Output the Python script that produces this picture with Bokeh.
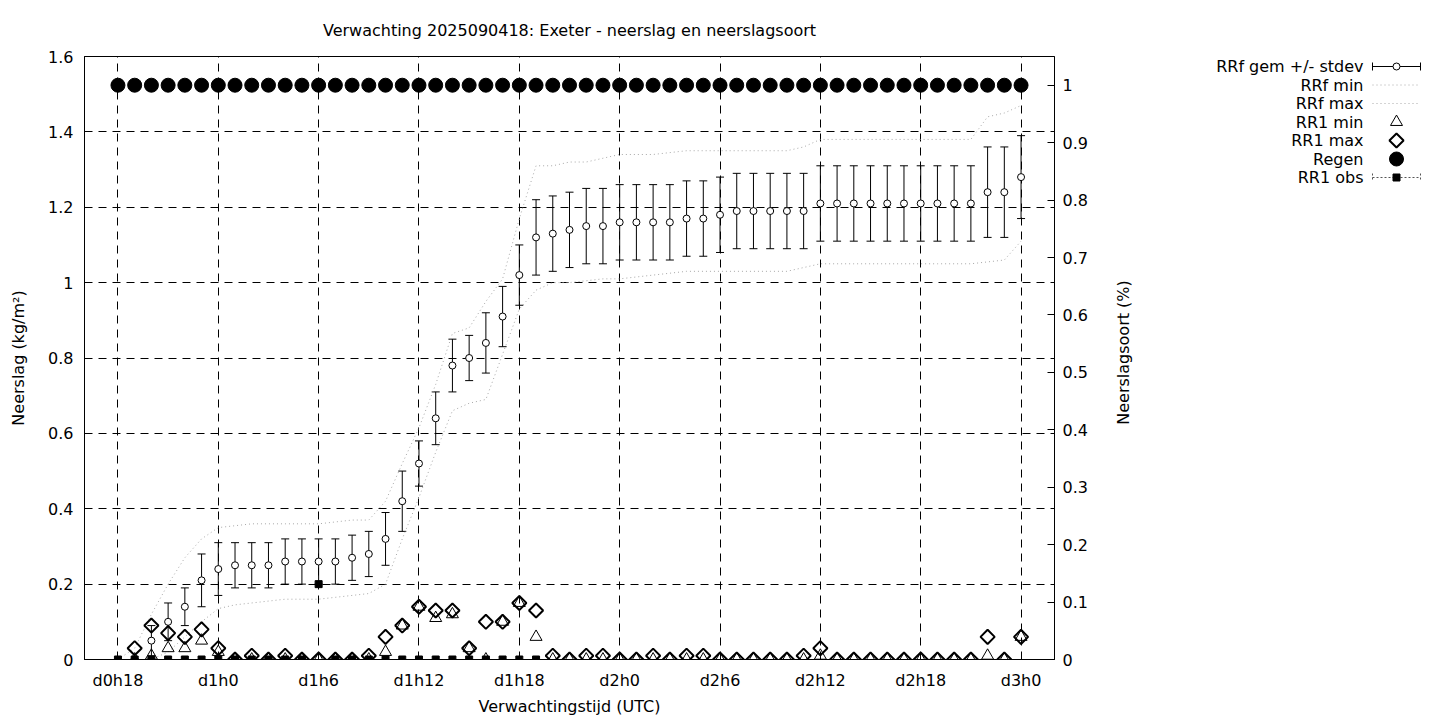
from bokeh.plotting import figure
from bokeh.layouts import row
from bokeh.models import (Range1d, LinearAxis, FixedTicker, NumeralTickFormatter,
                          ColumnDataSource)
from bokeh.core.properties import value
from bokeh.embed import file_html
from bokeh.resources import INLINE
import numpy as np

NaN = float("nan")

# forecast hours since d0h0
hours = [18, 19, 20, 21, 22, 23, 24, 25, 26, 27, 28, 29, 30, 31, 32, 33, 34, 35, 36,
         37, 38, 39, 40, 41, 42, 43, 44, 45, 46, 47, 48, 49, 50, 51, 52, 53, 54, 55,
         56, 57, 58, 59, 60, 61, 62, 63, 64, 65, 66, 67, 68, 69, 70, 71, 72]

rrf_mean = [NaN, NaN, 0.05, 0.10, 0.14, 0.21, 0.24, 0.25, 0.25, 0.25, 0.26, 0.26, 0.26,
            0.26, 0.27, 0.28, 0.32, 0.42, 0.52, 0.64, 0.78, 0.80, 0.84, 0.91, 1.02, 1.12,
            1.13, 1.14, 1.15, 1.15, 1.16, 1.16, 1.16, 1.16, 1.17, 1.17, 1.18, 1.19, 1.19,
            1.19, 1.19, 1.19, 1.21, 1.21, 1.21, 1.21, 1.21, 1.21, 1.21, 1.21, 1.21, 1.21,
            1.24, 1.24, 1.28]
rrf_sd = [NaN, NaN, 0.04, 0.05, 0.05, 0.07, 0.07, 0.06, 0.06, 0.06, 0.06, 0.06, 0.06,
          0.06, 0.06, 0.06, 0.07, 0.08, 0.06, 0.07, 0.07, 0.06, 0.08, 0.08, 0.08, 0.10,
          0.10, 0.10, 0.10, 0.10, 0.10, 0.10, 0.10, 0.10, 0.10, 0.10, 0.10, 0.10, 0.10,
          0.10, 0.10, 0.10, 0.10, 0.10, 0.10, 0.10, 0.10, 0.10, 0.10, 0.10, 0.10, 0.10,
          0.12, 0.12, 0.11]
rrf_min = [0.0, 0.0, 0.0, 0.02, 0.06, 0.10, 0.135, 0.145, 0.15, 0.155, 0.16, 0.16, 0.16,
           0.165, 0.17, 0.175, 0.20, 0.32, 0.43, 0.55, 0.66, 0.68, 0.69, 0.81, 0.93, 0.98,
           1.00, 1.00, 1.005, 1.01, 1.01, 1.015, 1.02, 1.025, 1.03, 1.03, 1.03, 1.03, 1.03,
           1.03, 1.03, 1.04, 1.05, 1.05, 1.05, 1.05, 1.05, 1.05, 1.05, 1.05, 1.05, 1.05,
           1.055, 1.06, 1.11]
rrf_max = [0.0, 0.03, 0.12, 0.20, 0.27, 0.32, 0.35, 0.355, 0.36, 0.36, 0.36, 0.36, 0.36,
           0.365, 0.37, 0.37, 0.42, 0.52, 0.615, 0.73, 0.865, 0.88, 0.95, 1.01, 1.17, 1.31,
           1.31, 1.32, 1.32, 1.33, 1.34, 1.34, 1.34, 1.345, 1.35, 1.35, 1.35, 1.35, 1.35,
           1.35, 1.35, 1.36, 1.38, 1.38, 1.38, 1.38, 1.38, 1.38, 1.38, 1.38, 1.38, 1.38,
           1.44, 1.45, 1.47]
rr1_min = [NaN, 0.0, 0.01, 0.03, 0.03, 0.05, 0.02, 0.0, 0.0, 0.0, 0.0, 0.0, 0.0,
           0.0, 0.0, 0.0, 0.02, 0.09, 0.14, 0.11, 0.12, 0.03, 0.0, 0.10, 0.15, 0.06,
           0.0, 0.0, 0.0, 0.0, 0.0, 0.0, 0.0, 0.0, 0.0, 0.0, 0.0, 0.0, 0.0,
           0.0, 0.0, 0.0, 0.01, 0.0, 0.0, 0.0, 0.0, 0.0, 0.0, 0.0, 0.0, 0.0,
           0.01, 0.0, 0.06]
rr1_max = [NaN, 0.03, 0.09, 0.07, 0.06, 0.08, 0.03, 0.0, 0.01, 0.0, 0.01, 0.0, 0.0,
           0.0, 0.0, 0.01, 0.06, 0.09, 0.14, 0.13, 0.13, 0.03, 0.10, 0.10, 0.15, 0.13,
           0.01, 0.0, 0.01, 0.01, 0.0, 0.0, 0.01, 0.0, 0.01, 0.01, 0.0, 0.0, 0.0,
           0.0, 0.0, 0.01, 0.03, 0.0, 0.0, 0.0, 0.0, 0.0, 0.0, 0.0, 0.0, 0.0,
           0.06, 0.0, 0.06]
regen = [1, 1, 1, 1, 1, 1, 1, 1, 1, 1, 1, 1, 1, 1, 1, 1, 1, 1, 1, 1, 1, 1, 1, 1, 1, 1, 1,
         1, 1, 1, 1, 1, 1, 1, 1, 1, 1, 1, 1, 1, 1, 1, 1, 1, 1, 1, 1, 1, 1, 1, 1, 1, 1, 1, 1]
rr1_obs = [0.0, 0.0, 0.0, 0.0, 0.0, 0.0, 0.0, 0.0, 0.0, 0.0, 0.0, 0.0, 0.2, 0.0, 0.0,
           0.0, 0.0, 0.0, 0.0, 0.0, 0.0, 0.0, 0.0, 0.0, 0.0, 0.0, NaN, NaN, NaN, NaN,
           NaN, NaN, NaN, NaN, NaN, NaN, NaN, NaN, NaN, NaN, NaN, NaN, NaN, NaN, NaN,
           NaN, NaN, NaN, NaN, NaN, NaN, NaN, NaN, NaN, NaN]

x_ticks = [18, 24, 30, 36, 42, 48, 54, 60, 66, 72]
x_tick_labels = ["d0h18", "d1h0", "d1h6", "d1h12", "d1h18", "d2h0", "d2h6", "d2h12",
                 "d2h18", "d3h0"]
y_ticks = [0, 0.2, 0.4, 0.6, 0.8, 1.0, 1.2, 1.4, 1.6]
y2_ticks = [0, 0.1, 0.2, 0.3, 0.4, 0.5, 0.6, 0.7, 0.8, 0.9, 1.0]
legend_labels = ["RRf gem +/- stdev", "RRf min", "RRf max", "RR1 min", "RR1 max",
                 "Regen", "RR1 obs"]

FONT = "DejaVu Sans"
FS = "16px"
H = 718
FRAME_TOP = 56
FRAME_BOTTOM = 659
MINMAX_COLOR = "#a8a8a8"

mean = np.array(rrf_mean)
sd = np.array(rrf_sd)
src = ColumnDataSource(dict(x=hours, mean=mean, lo=mean - sd, hi=mean + sd,
                            mn=rrf_min, mx=rrf_max, r1min=rr1_min, r1max=rr1_max,
                            regen=regen, obs=rr1_obs))

p = figure(width=1100, height=H, x_range=Range1d(16, 74), y_range=Range1d(0, 1.6),
           output_backend="svg", toolbar_location=None,
           min_border_left=84, min_border_right=46, min_border_top=FRAME_TOP,
           min_border_bottom=H - FRAME_BOTTOM,
           title="Verwachting 2025090418: Exeter - neerslag en neerslagsoort")
p.extra_y_ranges = {"pct": Range1d(0, 1.05)}
p.background_fill_color = "white"
p.border_fill_color = "white"
p.outline_line_color = "black"
p.outline_line_alpha = 1
p.outline_line_width = 1

p.title.align = "center"
p.title.text_font = FONT
p.title.text_font_size = FS
p.title.text_font_style = "normal"
p.title.text_color = "black"
p.title.standoff = 34

xa = p.xaxis[0]
xa.ticker = FixedTicker(ticks=x_ticks)
xa.major_label_overrides = {t: l for t, l in zip(x_ticks, x_tick_labels)}
xa.axis_label = "Verwachtingstijd (UTC)"

ya = p.yaxis[0]
ya.ticker = FixedTicker(ticks=y_ticks)
ya.formatter = NumeralTickFormatter(format="0.[0]")
ya.axis_label = "Neerslag (kg/m²)"

ya2 = LinearAxis(y_range_name="pct", ticker=FixedTicker(ticks=y2_ticks),
                 formatter=NumeralTickFormatter(format="0.[0]"))
p.add_layout(ya2, "right")

for ax in (xa, ya, ya2):
    ax.major_tick_in = 7
    ax.major_tick_out = 0
    ax.minor_tick_line_color = None
    ax.axis_line_color = "black"
    ax.major_tick_line_color = "black"
    ax.major_label_text_font = FONT
    ax.major_label_text_font_size = FS
    ax.major_label_text_color = "black"
    ax.axis_label_text_font = FONT
    ax.axis_label_text_font_size = FS
    ax.axis_label_text_font_style = "normal"
    ax.axis_label_text_color = "black"
xa.major_label_standoff = 11
xa.axis_label_standoff = 4
ya.major_label_standoff = 11
ya.axis_label_standoff = 17
ya2.major_label_standoff = 8

p.xgrid.ticker = FixedTicker(ticks=x_ticks)
p.ygrid.ticker = FixedTicker(ticks=y_ticks)
for g in (p.xgrid, p.ygrid):
    g.grid_line_color = "black"
    g.grid_line_dash = "8 6"
    g.grid_line_width = 1
    g.grid_line_alpha = 1

# RRf mean +/- stdev
p.segment(x0="x", y0="lo", x1="x", y1="hi", source=src, line_color="black", line_width=1)
p.scatter(x="x", y="lo", source=src, marker="dash", size=8, line_color="black")
p.scatter(x="x", y="hi", source=src, marker="dash", size=8, line_color="black")
p.scatter(x="x", y="mean", source=src, marker="circle", size=7,
          fill_color="white", line_color="black", line_width=1)

# RRf min / max
p.line(x="x", y="mn", source=src, line_color=MINMAX_COLOR, line_dash="1 3")
p.line(x="x", y="mx", source=src, line_color=MINMAX_COLOR, line_dash="1 3")

# RR1 min / max
p.scatter(x="x", y="r1min", source=src, marker="triangle", size=12,
          fill_alpha=0, line_color="black", line_width=1)
p.scatter(x="x", y="r1max", source=src, marker="square", angle=np.pi / 4, size=10,
          fill_alpha=0, line_color="black", line_width=2)

# Regen (right axis)
p.scatter(x="x", y="regen", source=src, y_range_name="pct", marker="circle",
          size=14, fill_color="black", line_color="black")

# RR1 obs
p.scatter(x="x", y="obs", source=src, marker="square", size=7,
          fill_color="black", line_color="black")

# ---- side panel: right axis title + key (page pixel coordinates) ----
LW = 1424 - 1100
lp = figure(width=LW, height=H, x_range=Range1d(0, LW),
            y_range=Range1d(FRAME_BOTTOM, FRAME_TOP),
            output_backend="svg", toolbar_location=None, min_border=0,
            min_border_top=FRAME_TOP, min_border_bottom=H - FRAME_BOTTOM,
            x_axis_type=None, y_axis_type=None)
lp.outline_line_color = None
lp.background_fill_color = "white"
lp.border_fill_color = "white"
lp.grid.visible = False

lp.text(x=[23], y=[352], text=["Neerslagsoort (%)"], angle=np.pi / 2,
        text_align="center", text_baseline="middle", text_font=value(FONT),
        text_font_size=value(FS), text_color="black")

row_y = [66 + 18.5 * i for i in range(len(legend_labels))]
lab_x = 263
s0, s1 = 272, 320
sc = (s0 + s1) / 2
lp.text(x=[lab_x] * len(legend_labels), y=row_y, text=legend_labels,
        text_align="right", text_baseline="middle", text_font=value(FONT),
        text_font_size=value(FS), text_color="black")

# key 0: mean +/- stdev
y0 = row_y[0]
lp.segment(x0=[s0], y0=[y0], x1=[s1], y1=[y0], line_color="black")
lp.segment(x0=[s0, s1], y0=[y0 - 4, y0 - 4], x1=[s0, s1], y1=[y0 + 4, y0 + 4],
           line_color="black")
lp.scatter(x=[sc], y=[y0], marker="circle", size=7, fill_color="white",
           line_color="black")
# key 1, 2: min / max
lp.segment(x0=[s0, s0], y0=[row_y[1], row_y[2]], x1=[s1, s1], y1=[row_y[1], row_y[2]],
           line_color=MINMAX_COLOR, line_dash="1 3")
# key 3: RR1 min
lp.scatter(x=[sc], y=[row_y[3]], marker="triangle", size=12, fill_alpha=0,
           line_color="black")
# key 4: RR1 max
lp.scatter(x=[sc], y=[row_y[4]], marker="square", angle=np.pi / 4, size=10,
           fill_alpha=0, line_color="black", line_width=2)
# key 5: Regen
lp.scatter(x=[sc], y=[row_y[5]], marker="circle", size=14, fill_color="black",
           line_color="black")
# key 6: RR1 obs
y6 = row_y[6]
lp.segment(x0=[s0], y0=[y6], x1=[s1], y1=[y6], line_color="#555555", line_dash="2 2")
lp.segment(x0=[s0, s1], y0=[y6 - 4, y6 - 4], x1=[s0, s1], y1=[y6 + 4, y6 + 4],
           line_color="#555555", line_dash="2 2")
lp.scatter(x=[sc], y=[y6], marker="square", size=7, fill_color="black",
           line_color="black")

layout = row(p, lp, spacing=0)
open("out.html", "w").write(file_html(layout, INLINE))
